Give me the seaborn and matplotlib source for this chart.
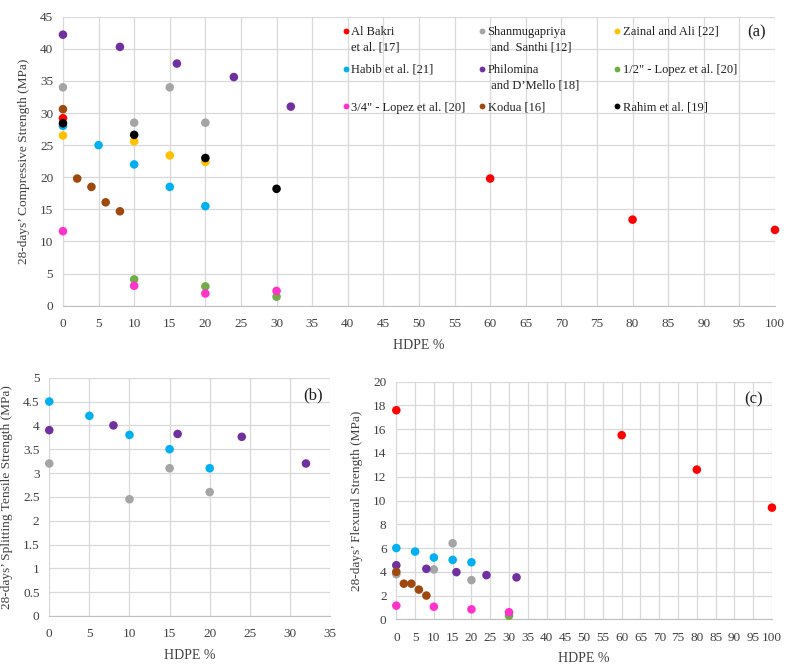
import matplotlib.pyplot as plt
import seaborn as sns
import pandas as pd
from matplotlib.lines import Line2D
from matplotlib.legend_handler import HandlerLine2D

sns.set_style("whitegrid")
plt.rcParams['font.family'] = ['Liberation Serif', 'DejaVu Serif']

# series names (legend order) and Excel-like colours
names = ["Al Bakri", "Shanmugapriya", "Zainal", "Habib", "Philomina",
         "Lopez12", "Lopez34", "Kodua", "Rahim"]
labels = ["Al Bakri\net al. [17]", "Shanmugapriya\n and  Santhi [12]", "Zainal and Ali [22]\n",
          "Habib et al. [21]\n", "Philomina\n and D\u2019Mello [18]       ", '1/2" - Lopez et al. [20]\n',
          '3/4" - Lopez et al. [20]', "Kodua [16]", "Rahim et al. [19]"]
colors = ["#FF0000", "#A5A5A5", "#FFC000", "#00B0F0", "#7030A0",
          "#70AD47", "#FF33CC", "#A0490F", "#000000"]

# (a) compressive strength
bakri_comp_x = [0, 60, 80, 100]
bakri_comp_y = [29.2, 19.8, 13.4, 11.8]
shan_comp_x = [0, 10, 15, 20]
shan_comp_y = [34.0, 28.5, 34.0, 28.5]
zainal_comp_x = [0, 10, 15, 20]
zainal_comp_y = [26.5, 25.6, 23.4, 22.4]
habib_comp_x = [0, 5, 10, 15, 20]
habib_comp_y = [28.0, 25.0, 22.0, 18.5, 15.5]
philo_comp_x = [0, 8, 16, 24, 32]
philo_comp_y = [42.2, 40.3, 37.7, 35.6, 31.0]
lopez12_comp_x = [10, 20, 30]
lopez12_comp_y = [4.1, 3.0, 1.4]
lopez34_comp_x = [0, 10, 20, 30]
lopez34_comp_y = [11.6, 3.1, 1.9, 2.3]
kodua_comp_x = [0, 2, 4, 6, 8]
kodua_comp_y = [30.6, 19.8, 18.5, 16.1, 14.7]
rahim_comp_x = [0, 10, 20, 30]
rahim_comp_y = [28.4, 26.6, 23.0, 18.2]

# (b) splitting tensile strength
shan_tens_x = [0, 10, 15, 20]
shan_tens_y = [3.2, 2.45, 3.1, 2.6]
habib_tens_x = [0, 5, 10, 15, 20]
habib_tens_y = [4.5, 4.2, 3.8, 3.5, 3.1]
philo_tens_x = [0, 8, 16, 24, 32]
philo_tens_y = [3.9, 4.0, 3.82, 3.76, 3.2]

# (c) flexural strength
bakri_flex_x = [0, 60, 80, 100]
bakri_flex_y = [17.6, 15.5, 12.6, 9.4]
shan_flex_x = [0, 10, 15, 20]
shan_flex_y = [3.8, 4.2, 6.4, 3.3]
habib_flex_x = [0, 5, 10, 15, 20]
habib_flex_y = [6.0, 5.7, 5.2, 5.0, 4.8]
philo_flex_x = [0, 8, 16, 24, 32]
philo_flex_y = [4.55, 4.25, 3.97, 3.72, 3.53]
lopez12_flex_x = [30]
lopez12_flex_y = [0.3]
lopez34_flex_x = [0, 10, 20, 30]
lopez34_flex_y = [1.15, 1.06, 0.84, 0.6]
kodua_flex_x = [0, 2, 4, 6, 8]
kodua_flex_y = [4.0, 3.0, 3.0, 2.5, 2.0]


def build(parts):
    rows = []
    for name, xs, ys in parts:
        for x, y in zip(xs, ys):
            rows.append({'HDPE': x, 'Strength': y, 'Study': name})
    return pd.DataFrame(rows)


df_a = build([("Al Bakri", bakri_comp_x, bakri_comp_y),
              ("Shanmugapriya", shan_comp_x, shan_comp_y),
              ("Zainal", zainal_comp_x, zainal_comp_y),
              ("Habib", habib_comp_x, habib_comp_y),
              ("Philomina", philo_comp_x, philo_comp_y),
              ("Lopez12", lopez12_comp_x, lopez12_comp_y),
              ("Lopez34", lopez34_comp_x, lopez34_comp_y),
              ("Kodua", kodua_comp_x, kodua_comp_y),
              ("Rahim", rahim_comp_x, rahim_comp_y)])
df_b = build([("Shanmugapriya", shan_tens_x, shan_tens_y),
              ("Habib", habib_tens_x, habib_tens_y),
              ("Philomina", philo_tens_x, philo_tens_y)])
df_c = build([("Al Bakri", bakri_flex_x, bakri_flex_y),
              ("Shanmugapriya", shan_flex_x, shan_flex_y),
              ("Habib", habib_flex_x, habib_flex_y),
              ("Philomina", philo_flex_x, philo_flex_y),
              ("Lopez12", lopez12_flex_x, lopez12_flex_y),
              ("Lopez34", lopez34_flex_x, lopez34_flex_y),
              ("Kodua", kodua_flex_x, kodua_flex_y)])

palette = dict(zip(names, colors))

fig = plt.figure(figsize=(7.92, 6.65), dpi=100)
ax_a = fig.add_axes([0.0795, 0.5403, 0.899, 0.4346])
ax_b = fig.add_axes([0.0622, 0.0737, 0.3545, 0.3583])
ax_c = fig.add_axes([0.5004, 0.0687, 0.4743, 0.3573])


def style(ax, xmax, ymax, ystep, ylabel, tag, tag_xy):
    ax.set_xlim(0, xmax)
    ax.set_ylim(0, ymax)
    ax.set_xticks(range(0, xmax + 1, 5))
    yt = [i * ystep for i in range(int(round(ymax / ystep)) + 1)]
    ax.set_yticks(yt)
    ax.set_yticklabels([f"{v:g}" for v in yt])
    ax.grid(True, color="#D9D9D9", linewidth=0.9)
    for s in ['top', 'right']:
        ax.spines[s].set_visible(False)
    ax.spines['left'].set_color("#D9D9D9")
    ax.spines['bottom'].set_color("#BFBFBF")
    ax.tick_params(length=0, labelsize=9.5, colors="#404040")
    ax.tick_params(axis='x', pad=9)
    ax.tick_params(axis='y', pad=7)
    ax.set_xlabel("HDPE %", fontsize=10, color="#404040", labelpad=6)
    ax.set_ylabel(ylabel, fontsize=9.6, color="#404040", labelpad=7)
    ax.text(tag_xy[0], tag_xy[1], tag, transform=ax.transAxes, fontsize=12,
            ha='right', va='top', color="#202020")


for ax, df in [(ax_a, df_a), (ax_b, df_b), (ax_c, df_c)]:
    sns.scatterplot(data=df, x='HDPE', y='Strength', hue='Study', palette=palette,
                    s=38, edgecolor='none', ax=ax, legend=False, clip_on=False, zorder=3)

style(ax_a, 100, 45, 5, "28-days\u2019 Compressive Strength (MPa)", "(a)", (0.987, 0.972))
style(ax_b, 35, 5, 0.5, "28-days\u2019 Splitting Tensile Strength (MPa)", "(b)", (0.975, 0.96))
style(ax_c, 100, 20, 2, "28-days\u2019 Flexural Strength (MPa)", "(c)", (0.975, 0.96))

LINESP = 1.45


class FirstLineHandler(HandlerLine2D):
    # put the dot beside the first line of a two-line label
    def create_artists(self, legend, orig_handle, xdescent, ydescent,
                       width, height, fontsize, trans):
        arts = super().create_artists(legend, orig_handle, xdescent, ydescent,
                                      width, height, fontsize, trans)
        for a in arts:
            a.set_ydata([y + 0.5 * LINESP * fontsize for y in a.get_ydata()])
        return arts


handles = [Line2D([], [], marker='o', linestyle='none', color=c,
                  markeredgecolor='none', markersize=4.2) for c in colors]
hmap = {h: FirstLineHandler() for h, lab in zip(handles, labels) if "\n" in lab}

# legend laid out row-wise like the original (matplotlib fills columns first)
order = [0, 3, 6, 1, 4, 7, 2, 5, 8]
leg = ax_a.legend([handles[i] for i in order], [labels[i] for i in order],
                  ncol=3, loc='upper left', bbox_to_anchor=(0.392, 0.968),
                  borderaxespad=0, borderpad=0, frameon=False, fontsize=9,
                  handletextpad=0.15, columnspacing=1.0, labelspacing=0.78,
                  handlelength=0.6, handler_map=hmap)
for t in leg.get_texts():
    t.set_color("#202020")
    t.set_linespacing(LINESP)

fig.savefig("out.png", dpi=100)
